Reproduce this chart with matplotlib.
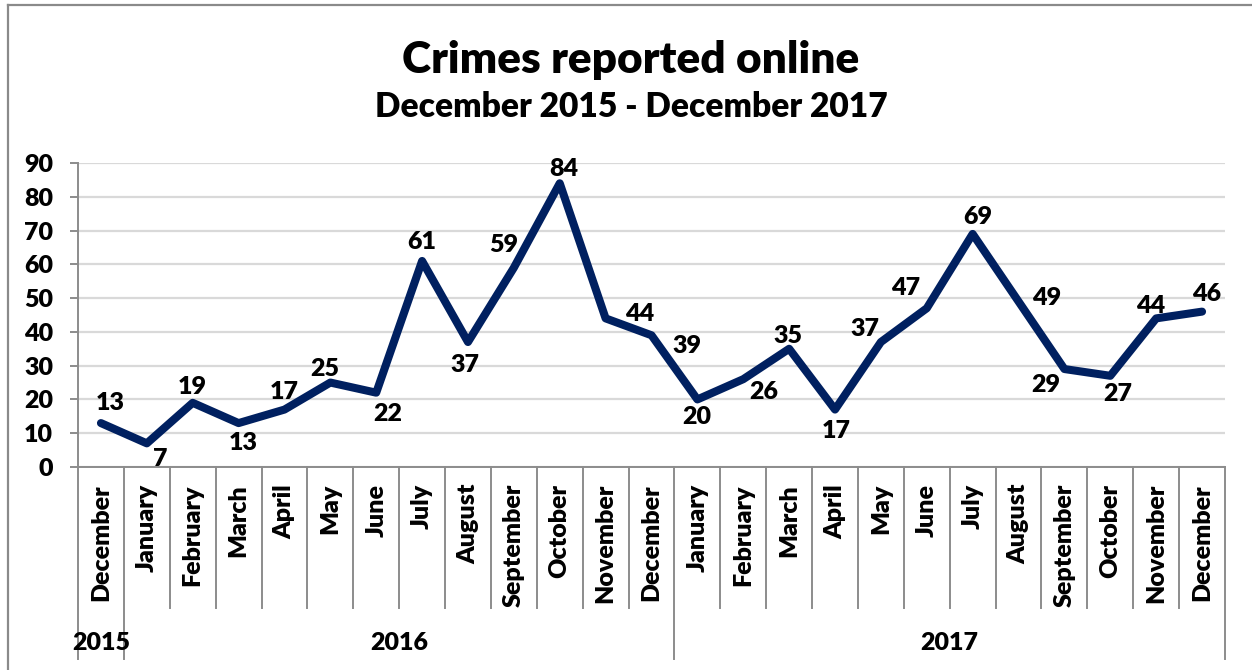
import matplotlib
matplotlib.use("Agg")
import matplotlib.pyplot as plt
from matplotlib.lines import Line2D

WEIGHT = "heavy"
plt.rcParams['font.family'] = ['Lato', 'DejaVu Sans']
plt.rcParams['font.weight'] = WEIGHT

# ---- data ----
months = ["December",
          "January", "February", "March", "April", "May", "June",
          "July", "August", "September", "October", "November", "December",
          "January", "February", "March", "April", "May", "June",
          "July", "August", "September", "October", "November", "December"]
crimes = [13,
          7, 19, 13, 17, 25, 22, 61, 37, 59, 84, 44, 39,
          20, 26, 35, 17, 37, 47, 69, 49, 29, 27, 44, 46]
years = ["2015", "2016", "2017"]
months_per_year = [1, 12, 12]
yticks = [0, 10, 20, 30, 40, 50, 60, 70, 80, 90]

# value-label placement (pixel offsets: right, up)
label_offsets = [(9, 21),
                 (13, -15), (0, 17), (5, -19), (0, 19), (-6, 15), (12, -20),
                 (0, 20), (-3, -22), (-10, 24), (4, 15), (34, 5), (35, -10),
                 (-1, -17), (20, -12), (-1, 14), (1, -20), (-16, 14), (-21, 21),
                 (5, 18), (28, 4), (-19, -15), (7, -17), (-6, 13), (5, 19)]

W, H = 1252, 670
LINE = "#002060"
GRID = "#d9d9d9"
AXIS = "#8c8c8c"
FS = 18

fig = plt.figure(figsize=(W / 100, H / 100), dpi=100)
fig.patch.set_facecolor("white")

# chart-area frame (left and top edges)
fig.add_artist(Line2D([8 / W, 8 / W], [0, 1 - 5 / H], color="#8a8a8a", lw=1.6))
fig.add_artist(Line2D([8 / W, 1], [1 - 5 / H, 1 - 5 / H], color="#8a8a8a", lw=1.6))

x0, x1, ytop, ybot = 78, 1225, 163, 467
ax = fig.add_axes([x0 / W, 1 - ybot / H, (x1 - x0) / W, (ybot - ytop) / H])

n = len(crimes)
xs = list(range(n))
ax.set_xlim(-0.5, n - 0.5)
ax.set_ylim(0, 90)

ax.set_yticks(yticks)
ax.set_yticklabels([str(v) for v in yticks], fontsize=FS, fontweight=WEIGHT)
ax.tick_params(axis="y", length=6, width=1.4, color=AXIS, pad=12)
ax.set_xticks([])
ax.yaxis.grid(True, color=GRID, lw=1.6)
ax.set_axisbelow(True)
for s in ("top", "right"):
    ax.spines[s].set_visible(False)
for s in ("left", "bottom"):
    ax.spines[s].set_color(AXIS)
    ax.spines[s].set_linewidth(1.4)

ax.plot(xs, crimes, color=LINE, lw=5.8, solid_joinstyle="round",
        solid_capstyle="round", zorder=3)

for x, v, (dx, dy) in zip(xs, crimes, label_offsets):
    ax.annotate(str(v), (x, v), xytext=(dx, dy - 1), textcoords="offset pixels",
                ha="center", va="center", fontsize=FS, fontweight=WEIGHT,
                color="black", annotation_clip=False, zorder=4)

# category axis: separators, month labels, year labels
tr = ax.get_xaxis_transform()
plot_h = ybot - ytop
short_y = -(608 - ybot) / plot_h
long_y = -(659 - ybot) / plot_h
bounds = [0]
for m in months_per_year:
    bounds.append(bounds[-1] + m)
for k in range(n + 1):
    y_end = long_y if k in bounds else short_y
    ax.plot([k - 0.5, k - 0.5], [0, y_end], transform=tr, color=AXIS,
            lw=1.4, clip_on=False)

for x, m in zip(xs, months):
    ax.text(x, -(484 - ybot) / plot_h, m, transform=tr, rotation=90,
            ha="center", va="top", fontsize=FS, fontweight=WEIGHT)

for i, yr in enumerate(years):
    centre = (bounds[i] + bounds[i + 1] - 1) / 2
    ax.text(centre, -(643 - ybot) / plot_h, yr, transform=tr,
            ha="center", va="center", fontsize=FS, fontweight=WEIGHT)

# titles, sized to their measured widths
renderer = fig.canvas.get_renderer()


def fitted_text(y, s, target_px, size):
    t = fig.text(0.504, y, s, ha="center", va="baseline", fontsize=size,
                 fontweight=WEIGHT)
    w = t.get_window_extent(renderer).width
    t.set_fontsize(size * target_px / w)
    return t


fitted_text(1 - 73 / H, "Crimes reported online", 455, 30)
fitted_text(1 - 117 / H, "December 2015 - December 2017", 513, 24)

fig.savefig("out.png", dpi=100, facecolor="white")
